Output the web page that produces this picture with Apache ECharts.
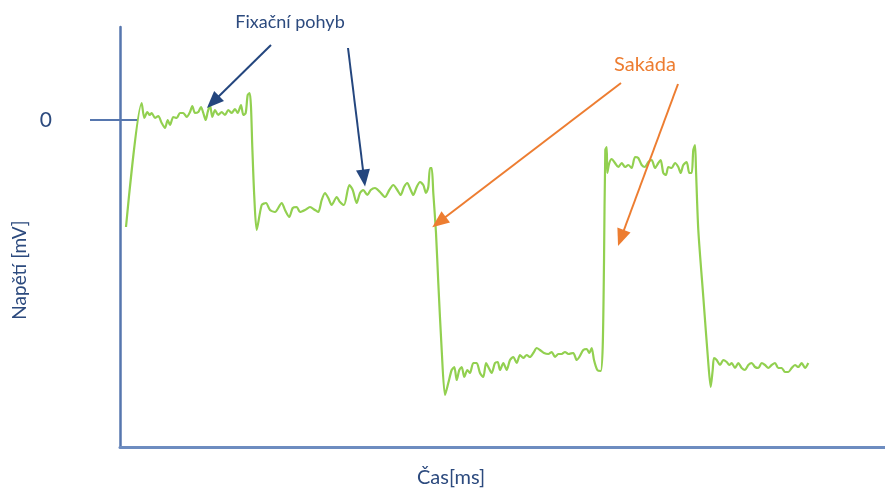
<!DOCTYPE html>
<html>
<head>
<meta charset="utf-8">
<script src="https://cdn.jsdelivr.net/npm/echarts@6/dist/echarts.min.js"></script>
<style>
  html, body { margin: 0; padding: 0; background: #ffffff; }
  #chart { width: 885px; height: 488px; }
</style>
</head>
<body>
<div id="chart"></div>
<script>
// EOG trace: time in ms, voltage in mV (0 = first fixation level)
const timeMs = [
  6, 21.7, 24.3, 27.3, 29.7, 31.7, 35, 38.3, 41.7, 45, 47.7, 50, 53.3, 56.7, 60, 63.3, 66.7, 70, 72.3, 75,
  78.3, 81, 83.3, 85.7, 87.7, 90, 92.3, 95, 98.3, 101.7, 105, 108.3, 111.7, 115, 117.7, 121, 123.3, 125.7, 127.7, 129.7,
  131, 132.3, 134.3, 136.7,
  141.7, 146, 150, 155, 161.7, 165, 169.3, 172.7, 176.7, 180, 185, 190, 195, 198.3, 201.7, 205, 208.3, 211.7, 216.7, 220,
  224, 229.3, 232.7, 236.7, 240, 243.3, 247.3, 250.7, 255, 260, 265, 269.3, 273.3, 277.3, 280.7, 284, 287.3, 290.7, 293.3, 296.7,
  300, 303.3, 306, 308.3, 310, 311.7, 313.3, 316, 318.3, 321.7, 325,
  328.3, 331.7, 334.3, 336.7, 339.3, 341.7, 344.3, 347.3, 350, 353.3, 356.7, 360, 363.3, 366, 368.3, 371.7, 375, 377.7, 380, 383.3,
  386.7, 390, 393.3, 396.7, 400, 403.3, 406.7, 410, 413.3, 416.7, 420, 424, 428.3, 431.7, 435, 438.3, 441.7, 445, 448.3, 453.3,
  456.7, 459.3, 463.3, 466.7, 469.3, 471.7, 474, 477.3, 480.7, 482.7, 484, 485.3, 486.7,
  487.3, 489.3, 491.7, 495, 498.3, 501.7, 505, 508.3, 511.7, 515, 518.3, 521.7, 525, 528.3, 531.7, 535, 538.3, 540.7, 543.3, 546,
  548.3, 551.7, 555, 558.3, 560.7, 563.3, 566.7, 569.3, 571.7, 573.3, 575, 576, 578.3, 583.3, 588.3, 590.7,
  592.7, 594, 596.7, 600, 603.3, 606.7, 609.3, 611.7, 615, 618.3, 621.7, 625, 628.3, 631.7, 635, 638.3, 641.7, 645, 648.3, 651.7,
  655, 658.3, 661.7, 665, 668.3, 671.7, 675, 678.3, 681.7, 685, 688.3
];
const voltage = [
  -1.07, 0.17, 0.02, 0.08, 0.05, 0.07, 0.02, 0.04, -0.03, -0.08, 0, -0.05, 0.03, 0.02, 0.07, 0.07, 0.03, 0.08, 0.14, 0.07,
  0.08, 0.13, 0.07, 0, 0.08, 0.15, 0.03, 0.1, 0.05, 0.08, 0.05, 0.1, 0.07, 0.11, 0.07, 0.15, 0.05, 0.07, 0.25, 0.27,
  0.13, -0.27, -0.77, -1.1,
  -0.85, -0.83, -0.9, -0.92, -0.83, -0.9, -0.97, -0.88, -0.87, -0.92, -0.9, -0.87, -0.9, -0.92, -0.8, -0.73, -0.78, -0.85, -0.77, -0.82,
  -0.85, -0.65, -0.7, -0.83, -0.73, -0.7, -0.75, -0.7, -0.68, -0.72, -0.77, -0.7, -0.65, -0.7, -0.75, -0.67, -0.63, -0.7, -0.75, -0.67,
  -0.62, -0.65, -0.73, -0.67, -0.48, -0.48, -0.73, -1.13, -1.63, -2.3, -2.75,
  -2.63, -2.5, -2.47, -2.6, -2.5, -2.47, -2.57, -2.5, -2.53, -2.43, -2.43, -2.53, -2.57, -2.43, -2.47, -2.53, -2.43, -2.42, -2.5, -2.43,
  -2.5, -2.4, -2.37, -2.43, -2.35, -2.38, -2.35, -2.37, -2.33, -2.28, -2.3, -2.33, -2.34, -2.32, -2.37, -2.34, -2.34, -2.32, -2.34, -2.33,
  -2.4, -2.37, -2.3, -2.29, -2.33, -2.28, -2.4, -2.5, -2.51, -2.27, -1.43, -0.3, -0.27,
  -0.53, -0.43, -0.39, -0.43, -0.47, -0.43, -0.47, -0.45, -0.48, -0.37, -0.38, -0.45, -0.47, -0.42, -0.4, -0.48, -0.43, -0.4, -0.53, -0.55,
  -0.47, -0.48, -0.43, -0.47, -0.53, -0.45, -0.42, -0.53, -0.53, -0.3, -0.25, -0.5, -1.1, -1.77, -2.43, -2.67,
  -2.5, -2.38, -2.4, -2.45, -2.4, -2.42, -2.45, -2.43, -2.48, -2.43, -2.48, -2.5, -2.45, -2.43, -2.47, -2.48, -2.43, -2.45, -2.48, -2.45,
  -2.43, -2.48, -2.48, -2.52, -2.52, -2.48, -2.45, -2.47, -2.43, -2.48, -2.43
];

// y-axis tick that carries a label
const yTickValues = [0];
const yTickLabels = ['0'];

// annotation arrows [fromTime, fromVoltage, toTime, toVoltage]
const fixationArrows = [
  [151, 0.75, 93, 0.18],
  [228, 0.72, 244, -0.58]
];
const saccadeArrows = [
  [501, 0.37, 319, -1.02],
  [558, 0.36, 501, -1.18]
];

const axisColor = '#5676ae';
const navy = '#2c4a7e';
const orange = '#ed7d31';
const green = '#92d050';
const font = 'Lato, "Open Sans", sans-serif';

const data = timeMs.map((t, i) => [t, voltage[i]]);

function arrowLines(list, color) {
  return list.map(a => [
    { coord: [a[0], a[1]], lineStyle: { color: color, width: 2, type: 'solid' } },
    { coord: [a[2], a[3]] }
  ]);
}

const chart = echarts.init(document.getElementById('chart'), null, { renderer: 'canvas' });

chart.setOption({
  backgroundColor: '#ffffff',
  animation: false,
  grid: { left: 120, right: 0, top: 27, bottom: 41, containLabel: false },
  xAxis: {
    type: 'value',
    min: 0,
    max: 765,
    axisLine: { show: true, onZero: false, lineStyle: { color: '#6d8cc0', width: 3 } },
    axisTick: { show: false },
    axisLabel: { show: false },
    splitLine: { show: false }
  },
  yAxis: {
    type: 'value',
    min: -3.27,
    max: 0.93,
    axisLine: { show: true, onZero: false, lineStyle: { color: axisColor, width: 2.5 } },
    axisTick: {
      show: true,
      customValues: yTickValues,
      length: 30,
      lineStyle: { color: axisColor, width: 2 }
    },
    axisLabel: {
      show: true,
      customValues: yTickValues,
      formatter: v => yTickLabels[yTickValues.indexOf(v)] ?? '',
      margin: 68,
      color: navy,
      fontFamily: font,
      fontSize: 21
    },
    splitLine: { show: false }
  },
  series: [
    {
      type: 'line',
      data: data,
      smooth: 0.25,
      showSymbol: false,
      clip: false,
      lineStyle: { color: green, width: 2.2 },
      z: 3,
      markLine: {
        silent: true,
        symbol: ['none', 'none'],
        label: { show: false },
        lineStyle: { color: axisColor, width: 2, type: 'solid' },
        data: [[{ coord: [0, 0] }, { coord: [17, 0] }]]
      }
    },
    {
      type: 'line',
      data: [],
      markLine: {
        silent: true,
        symbol: ['none', 'triangle'],
        symbolSize: [14, 17],
        label: { show: false },
        data: arrowLines(fixationArrows, '#24467e').concat(arrowLines(saccadeArrows, orange))
      },
      z: 5
    }
  ],
  graphic: [
    {
      type: 'text', x: 290, y: 22,
      style: { text: 'Fixační pohyb', fill: navy, font: '18px ' + font, align: 'center', verticalAlign: 'middle' }
    },
    {
      type: 'text', x: 645, y: 65,
      style: { text: 'Sakáda', fill: orange, font: '20px ' + font, align: 'center', verticalAlign: 'middle' }
    },
    {
      type: 'text', x: 451, y: 478,
      style: { text: 'Čas[ms]', fill: navy, font: '20px ' + font, align: 'center', verticalAlign: 'middle' }
    },
    {
      type: 'text', x: 20, y: 270, rotation: Math.PI / 2,
      style: { text: 'Napětí [mV]', fill: navy, font: '19px ' + font, align: 'center', verticalAlign: 'middle' }
    }
  ]
});
</script>
</body>
</html>
